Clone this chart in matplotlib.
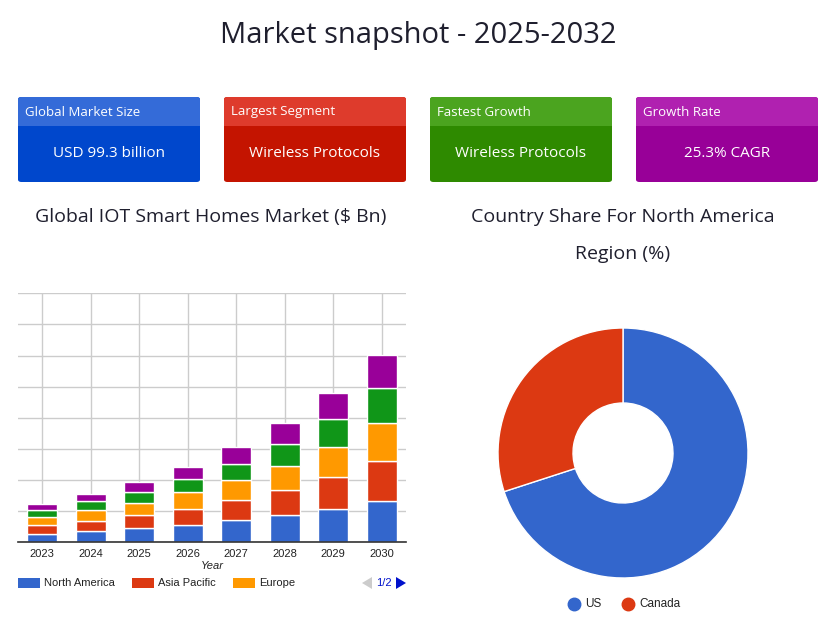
import matplotlib
matplotlib.use("Agg")
import matplotlib.pyplot as plt
from matplotlib.patches import FancyBboxPatch, Rectangle, Polygon
from matplotlib.lines import Line2D
import numpy as np

W, H = 837, 643

# ---------------- data ----------------
years = ["2023", "2024", "2025", "2026", "2027", "2028", "2029", "2030"]
north_america = [2.8, 3.7, 4.5, 5.7, 7.1, 8.7, 10.8, 13.4]
asia_pacific = [2.9, 3.3, 4.4, 5.1, 6.6, 8.2, 10.3, 12.8]
europe = [2.5, 3.3, 3.8, 5.3, 6.2, 7.7, 9.6, 12.2]
latin_america = [2.3, 2.9, 3.6, 4.3, 5.4, 7.1, 9.0, 11.3]
mea = [1.8, 2.3, 3.2, 3.8, 5.3, 6.6, 8.3, 10.5]
series_names = ["North America", "Asia Pacific", "Europe", "Latin America", "Middle East & Africa"]
series_colors = ["#3366cc", "#dc3912", "#ff9900", "#109618", "#990099"]

pie_labels = ["US", "Canada"]
pie_values = [70, 30]
pie_colors = ["#3366cc", "#dc3912"]

card_titles = ["Global Market Size", "Largest Segment", "Fastest Growth", "Growth Rate"]
card_values = ["USD 99.3 billion", "Wireless Protocols", "Wireless Protocols", "25.3% CAGR"]
card_top_colors = ["#346bd8", "#de3b2c", "#4ba41f", "#b021b0"]
card_bot_colors = ["#0047cc", "#c41400", "#2e8a00", "#980098"]

title = "Market snapshot - 2025-2032"
bar_title = "Global IOT Smart Homes Market ($ Bn)"
pie_title = ["Country Share For North America", "Region (%)"]

FONT = ["Open Sans", "DejaVu Sans"]
AR = ["Liberation Sans", "DejaVu Sans"]

fig = plt.figure(figsize=(W / 100, H / 100), dpi=100)

def fx(x):
    return x / W

def fy(y):
    return 1 - y / H

# title
fig.text(fx(418), fy(35.5), title, ha="center", va="center", fontsize=21,
         color="#1f1f2e", family=FONT)

# cards
card_x = [18, 224, 430, 636]
cw, top, mid, bot = 182, 97, 126, 182
for i in range(4):
    x0 = card_x[i]
    bx = FancyBboxPatch((fx(x0), fy(bot)), fx(cw), fy(top) - fy(bot),
                        boxstyle="round,pad=0,rounding_size=0.004",
                        transform=fig.transFigure, facecolor=card_bot_colors[i],
                        edgecolor="none")
    fig.patches.append(bx)
    tp = FancyBboxPatch((fx(x0), fy(mid)), fx(cw), fy(top) - fy(mid),
                        boxstyle="round,pad=0,rounding_size=0.004",
                        transform=fig.transFigure, facecolor=card_top_colors[i],
                        edgecolor="none")
    fig.patches.append(tp)
    fig.patches.append(Rectangle((fx(x0), fy(mid)), fx(cw), fy(mid - 5) - fy(mid),
                                 transform=fig.transFigure, facecolor=card_top_colors[i],
                                 edgecolor="none"))
    fig.text(fx(x0 + 7), fy(112), card_titles[i], ha="left", va="center",
             fontsize=9.5, color="white", family=FONT)
    fig.text(fx(x0 + cw / 2), fy(153.5), card_values[i], ha="center", va="center",
             fontsize=11, color="white", family=FONT)

# subtitles
fig.text(fx(211), fy(217), bar_title, ha="center", va="center", fontsize=14,
         color="#1f1f2e", family=FONT)
fig.text(fx(623), fy(217), pie_title[0], ha="center", va="center", fontsize=14,
         color="#1f1f2e", family=FONT)
fig.text(fx(623), fy(254), pie_title[1], ha="center", va="center", fontsize=14,
         color="#1f1f2e", family=FONT)

# ---------------- bar chart ----------------
ax = fig.add_axes([fx(18), fy(542.3), fx(406 - 18), fy(293.3) - fy(542.3)])
x = np.arange(len(years))
bottom = np.zeros(len(years))
all_series = [north_america, asia_pacific, europe, latin_america, mea]
for vals, col, name in zip(all_series, series_colors, series_names):
    v = np.array(vals)
    ax.bar(x, v, bottom=bottom, width=0.62, color=col, edgecolor="white",
           linewidth=1.0, label=name, zorder=3)
    bottom += v
ax.set_xlim(-0.5, len(years) - 0.5)
ax.set_ylim(0, 80)
ax.set_yticks(np.arange(0, 81, 10))
ax.set_yticklabels([])
ax.tick_params(axis="y", length=0)
ax.set_xticks(x)
ax.set_xticklabels(years, fontsize=8, color="#222222", family=AR)
ax.tick_params(axis="x", length=0, pad=5)
ax.grid(True, color="#cccccc", linewidth=1, zorder=0)
for s in ["left", "right", "top"]:
    ax.spines[s].set_visible(False)
ax.spines["bottom"].set_color("#333333")
ax.spines["bottom"].set_linewidth(1.2)
ax.spines["bottom"].set_zorder(4)
ax.set_xlabel("Year", fontsize=8, style="italic", color="#222222", family=AR, labelpad=1)

# bar legend (page 1/2)
leg_items = [(18, 0), (132, 1), (233, 2)]
for lx, k in leg_items:
    fig.patches.append(Rectangle((fx(lx), fy(588)), fx(22), fy(578) - fy(588),
                                 transform=fig.transFigure, facecolor=series_colors[k],
                                 edgecolor="none"))
    fig.text(fx(lx + 26), fy(583), series_names[k], ha="left", va="center",
             fontsize=8, color="#222222", family=AR)
fig.patches.append(Polygon([[fx(362), fy(583)], [fx(372), fy(577)], [fx(372), fy(589)]],
                           closed=True, transform=fig.transFigure,
                           facecolor="#cccccc", edgecolor="none"))
fig.text(fx(384), fy(583), "1/2", ha="center", va="center", fontsize=8,
         color="#0011cc", family=AR)
fig.patches.append(Polygon([[fx(396), fy(577)], [fx(406), fy(583)], [fx(396), fy(589)]],
                           closed=True, transform=fig.transFigure,
                           facecolor="#0011cc", edgecolor="none"))

# ---------------- donut ----------------
r = 125
pax = fig.add_axes([fx(623 - r), fy(453 + r), fx(2 * r), fy(453 - r) - fy(453 + r)])
pax.pie(pie_values, colors=pie_colors, startangle=90, counterclock=False,
        radius=1.0, wedgeprops=dict(width=0.6, edgecolor="white", linewidth=1))
pax.set_xlim(-1, 1)
pax.set_ylim(-1, 1)
pax.set_aspect("equal")
pax.axis("off")

# donut legend
lg_x = [574, 628]
for i, lab in enumerate(pie_labels):
    fig.lines.append(Line2D([fx(lg_x[i])], [fy(604)], marker="o", markersize=9,
                            color=pie_colors[i], linestyle="none",
                            transform=fig.transFigure))
    fig.text(fx(lg_x[i] + 11), fy(604), lab, ha="left", va="center", fontsize=8.5,
             color="#222222", family=AR)

fig.savefig("out.png", dpi=100, facecolor="white")
